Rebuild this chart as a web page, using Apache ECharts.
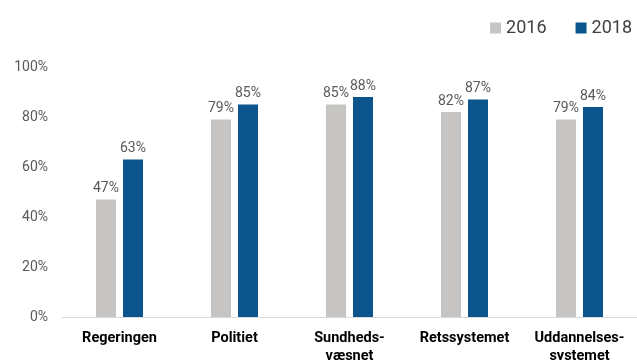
<!DOCTYPE html>
<html lang="da">
<head>
<meta charset="UTF-8">
<title>Tillid</title>
<script src="https://cdn.jsdelivr.net/npm/echarts@6/dist/echarts.min.js"></script>
</head>
<body style="margin:0">
<div id="chart" style="width:637px;height:360px;"></div>
<script>
var categories = ['Regeringen', 'Politiet', 'Sundheds-\nvæsnet', 'Retssystemet', 'Uddannelses-\nsystemet'];
var values2016 = [47, 79, 85, 82, 79];
var values2018 = [63, 85, 88, 87, 84];
var yTicks = [0, 20, 40, 60, 80, 100];

var chart = echarts.init(document.getElementById('chart'));

var labelStyle = {
    show: true,
    position: 'top',
    distance: 4,
    formatter: '{c}%',
    color: '#595959',
    fontFamily: 'Roboto',
    fontSize: 14
};

chart.setOption({
    animation: false,
    textStyle: { fontFamily: 'Roboto' },
    legend: {
        top: 14,
        right: 0,
        itemWidth: 11,
        itemHeight: 11,
        itemGap: 29,
        icon: 'rect',
        textStyle: { fontSize: 18, color: '#404040' },
        data: ['2016', '2018']
    },
    grid: { left: 62, right: 0, top: 67, bottom: 43, outerBoundsMode: 'none' },
    xAxis: {
        type: 'category',
        data: categories,
        axisTick: { show: false },
        axisLine: { lineStyle: { color: '#d9d9d9', width: 1 } },
        axisLabel: {
            color: '#000',
            fontWeight: 'bold',
            fontSize: 14.5,
            lineHeight: 18,
            margin: 12,
            interval: 0
        }
    },
    yAxis: {
        type: 'value',
        min: yTicks[0],
        max: yTicks[yTicks.length - 1],
        interval: 20,
        splitLine: { show: false },
        axisLine: { show: false },
        axisTick: { show: false },
        axisLabel: {
            formatter: '{value}%',
            color: '#595959',
            fontSize: 14,
            margin: 14
        }
    },
    series: [
        {
            name: '2016',
            type: 'bar',
            data: values2016,
            barWidth: 20,
            barGap: '35%',
            itemStyle: { color: '#c6c5c3' },
            label: labelStyle
        },
        {
            name: '2018',
            type: 'bar',
            data: values2018,
            barWidth: 20,
            itemStyle: { color: '#0b558c' },
            label: labelStyle
        }
    ]
});
</script>
</body>
</html>
